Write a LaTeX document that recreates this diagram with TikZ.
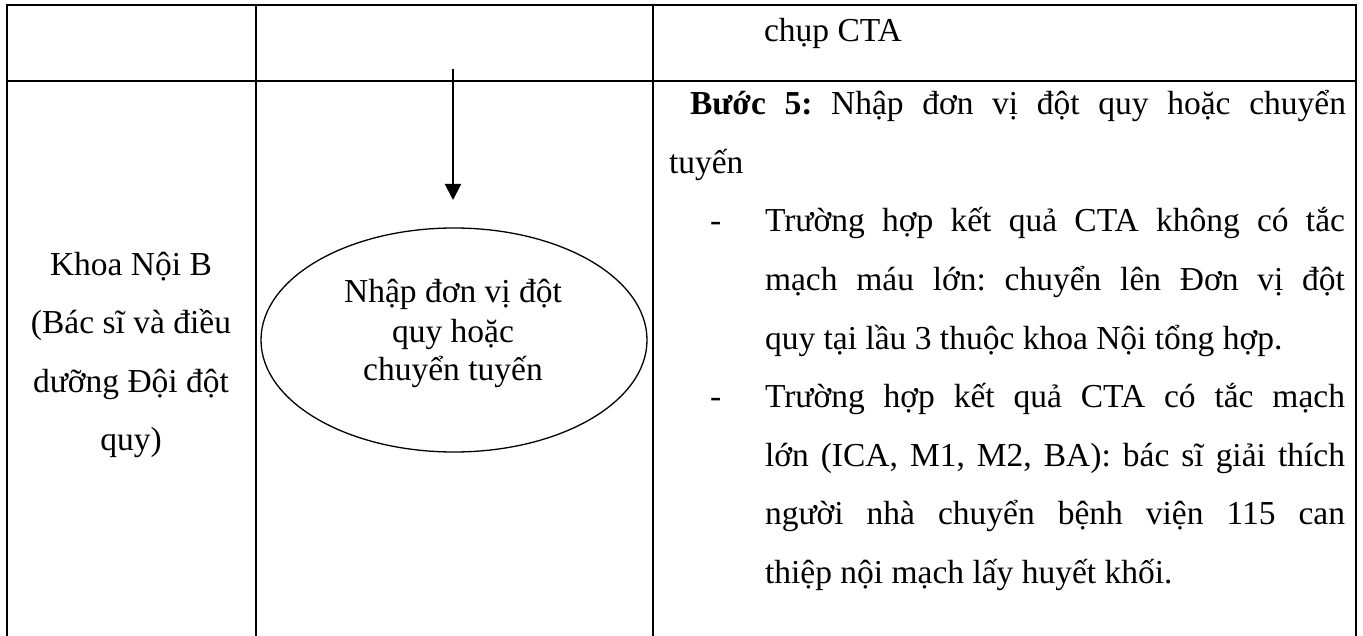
\documentclass[tikz,border=0pt]{standalone}
\usepackage{fontspec}
\setmainfont{Liberation Serif}
\frenchspacing
\usetikzlibrary{shapes.geometric,arrows.meta}
\tikzset{
  grid/.style={line width=2pt, line cap=rect},
  txt/.style={inner sep=0pt, outer sep=0pt, font=\fontsize{33.5}{40}\selectfont\frenchspacing},
  lft/.style={txt, anchor=base west},
  ctr/.style={txt, anchor=base},
  flowarrow/.style={line width=2pt, -{Triangle[width=16pt,length=16pt]}},
  bubble/.style={ellipse, draw, line width=1.3pt, minimum width=386pt, minimum height=224pt, inner sep=0pt}
}
\begin{document}
\begin{tikzpicture}[x=1pt,y=-1pt]
\useasboundingbox (0,0) rectangle (1363,636);
% table grid
\draw[grid] (7,5) -- (1356,5);
\draw[grid] (7,81) -- (1356,81);
\draw[grid] (7,5) -- (7,636);
\draw[grid] (256,5) -- (256,636);
\draw[grid] (653,5) -- (653,636);
\draw[grid] (1356,5) -- (1356,636);
% column 1
\node[ctr] (k1) at (131,276) {Khoa Nội B};
\node[ctr] (k2) at (131,334) {(Bác sĩ và điều};
\node[ctr] (k3) at (131,392) {dưỡng Đội đột};
\node[ctr] (k4) at (131,450) {quy)};
% column 2
\coordinate (a0) at (453,69);
\coordinate (a1) at (453,200);
\draw[flowarrow] (a0) -- (a1);
\node[bubble] (e) at (454,340) {};
\node[ctr] (e1) at (453,303) {Nhập đơn vị đột};
\node[ctr] (e2) at (453,342) {quy hoặc};
\node[ctr] (e3) at (453,381) {chuyển tuyến};
% column 3
\node[lft] (c0) at (764,42) {chụp CTA};
\node[lft] (s1) at (690,115) {\makebox[656pt][s]{\textbf{Bước 5:} Nhập đơn vị đột quy hoặc chuyển}};
\node[lft] (s2) at (669,173.5) {tuyến};
\node[lft] (d1) at (710,232) {-};
\node[lft] (b1) at (765,232) {\makebox[580pt][s]{Trường hợp kết quả CTA không có tắc}};
\node[lft] (b2) at (765,290.5) {\makebox[580pt][s]{mạch máu lớn: chuyển lên Đơn vị đột}};
\node[lft] (b3) at (765,349) {quy tại lầu 3 thuộc khoa Nội tổng hợp.};
\node[lft] (d2) at (710,407.5) {-};
\node[lft] (b4) at (765,407.5) {\makebox[580pt][s]{Trường hợp kết quả CTA có tắc mạch}};
\node[lft] (b5) at (765,466) {\makebox[580pt][s]{lớn (ICA, M1, M2, BA): bác sĩ giải thích}};
\node[lft] (b6) at (765,524.5) {\makebox[580pt][s]{người nhà chuyển bệnh viện 115 can}};
\node[lft] (b7) at (765,583) {thiệp nội mạch lấy huyết khối.};
\end{tikzpicture}
\end{document}
